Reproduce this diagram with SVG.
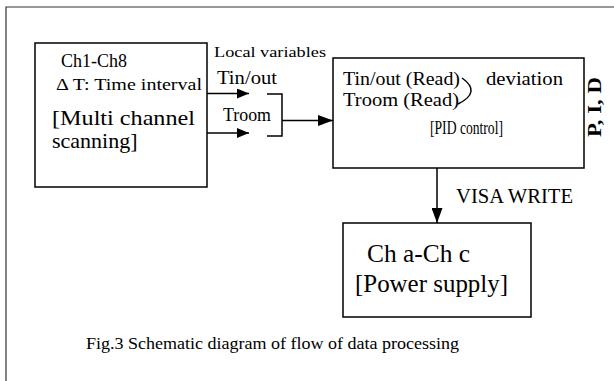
<svg xmlns="http://www.w3.org/2000/svg" width="614" height="381" viewBox="0 0 614 381">
  <style>
    text { font-family: "Liberation Serif", "Times New Roman", serif; fill: #000; }
    .box { fill: #fff; stroke: #000; stroke-width: 1.5; }
    .wire { fill: none; stroke: #000; stroke-width: 1.5; }
    .frame { fill: none; stroke: #333; stroke-width: 1.2; }
  </style>
  <defs>
    <marker id="head" viewBox="0 0 12 10" refX="12" refY="5" markerWidth="12" markerHeight="10" markerUnits="userSpaceOnUse" orient="auto">
      <path d="M0,0 L12,5 L0,10 Z" fill="#000"/>
    </marker>
    <marker id="headLg" viewBox="0 0 15 11" refX="15" refY="5.5" markerWidth="15" markerHeight="11" markerUnits="userSpaceOnUse" orient="auto">
      <path d="M0,0 L15,5.5 L0,11 Z" fill="#000"/>
    </marker>
  </defs>
  <rect width="614" height="381" fill="#fff"/>

  <!-- page frame: only left and top edges fall inside the figure -->
  <path class="frame" d="M6,381 V7 H614"/>

  <!-- scanning block -->
  <g id="scan">
    <rect class="box" x="35" y="43" width="172" height="144"/>
    <text x="61" y="67" font-size="18" textLength="66" lengthAdjust="spacingAndGlyphs">Ch1-Ch8</text>
    <text x="56" y="90" font-size="16" textLength="146" lengthAdjust="spacingAndGlyphs">Δ T: Time interval</text>
    <text x="52" y="125" font-size="22" textLength="143" lengthAdjust="spacingAndGlyphs">[Multi channel</text>
    <text x="52" y="148" font-size="22">scanning]</text>
  </g>

  <!-- local variable labels -->
  <g id="vars">
    <text x="214" y="57" font-size="15" textLength="112" lengthAdjust="spacingAndGlyphs">Local variables</text>
    <text x="217" y="84" font-size="18" textLength="60" lengthAdjust="spacingAndGlyphs">Tin/out</text>
    <text x="223" y="121" font-size="18" textLength="48" lengthAdjust="spacingAndGlyphs">Troom</text>
  </g>

  <!-- PID block -->
  <g id="pid">
    <rect class="box" x="333" y="58" width="251" height="110"/>
    <text x="343" y="85" font-size="18" textLength="117" lengthAdjust="spacingAndGlyphs">Tin/out (Read)</text>
    <text x="343" y="106" font-size="18" textLength="116" lengthAdjust="spacingAndGlyphs">Troom (Read)</text>
    <path class="wire" stroke-width="1.2" d="M462,78 Q482,92 458,104"/>
    <text x="486" y="85" font-size="18" textLength="77" lengthAdjust="spacingAndGlyphs">deviation</text>
    <text x="430" y="134" font-size="18" textLength="73" lengthAdjust="spacingAndGlyphs">[PID control]</text>
    <text transform="translate(601,137) rotate(-90)" font-size="19" font-weight="bold" textLength="60" lengthAdjust="spacingAndGlyphs">P, I, D</text>
  </g>

  <!-- power supply block -->
  <g id="power">
    <rect class="box" x="343" y="223" width="188" height="94"/>
    <text x="367" y="262" font-size="25" textLength="103" lengthAdjust="spacingAndGlyphs">Ch a-Ch c</text>
    <text x="355" y="292" font-size="25" textLength="153" lengthAdjust="spacingAndGlyphs">[Power supply]</text>
  </g>

  <!-- connectors -->
  <g id="connectors">
    <line class="wire" x1="207" y1="93.5" x2="249" y2="93.5" marker-end="url(#head)"/>
    <line class="wire" x1="207" y1="133" x2="249" y2="133" marker-end="url(#head)"/>
    <path class="wire" d="M267,94 H282 V136 H267"/>
    <line class="wire" x1="282" y1="120.5" x2="333" y2="120.5" marker-end="url(#headLg)"/>
    <line class="wire" x1="437" y1="168" x2="437" y2="223" marker-end="url(#headLg)"/>
    <text x="456" y="203" font-size="20" textLength="117" lengthAdjust="spacingAndGlyphs">VISA WRITE</text>
  </g>

  <text x="86" y="349" font-size="17" textLength="373" lengthAdjust="spacingAndGlyphs">Fig.3 Schematic diagram of flow of data processing</text>
</svg>
